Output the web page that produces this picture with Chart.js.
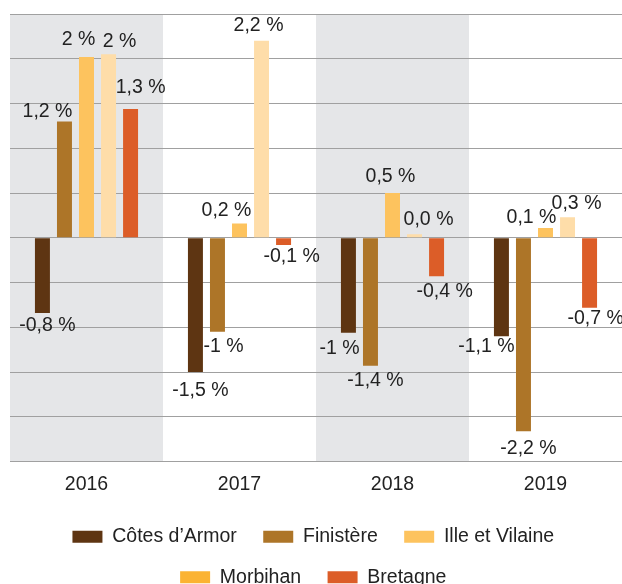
<!DOCTYPE html>
<html>
<head>
<meta charset="utf-8">
<script src="https://cdn.jsdelivr.net/npm/chart.js@4"></script>
<style>
  html, body { margin: 0; padding: 0; background: #fff; }
  #wrap { width: 622px; height: 584px; }
</style>
</head>
<body>
<div id="wrap"><canvas id="myChart"></canvas></div>
<script>
var years = ['2016', '2017', '2018', '2019'];
var seriesNames = ['Côtes d’Armor', 'Finistère', 'Ille et Vilaine', 'Morbihan', 'Bretagne'];

var cotesArmor = [-0.84, -1.5, -1.06, -1.1];
var finistere = [1.3, -1.05, -1.43, -2.16];
var illeVilaine = [2.02, 0.16, 0.5, 0.11];
var morbihan = [2.05, 2.2, 0.04, 0.23];
var bretagne = [1.44, -0.08, -0.43, -0.78];

// texts printed next to the bars
var cotesArmorText = ['-0,8 %', '-1,5 %', '-1 %', '-1,1 %'];
var finistereText = ['1,2 %', '-1 %', '-1,4 %', '-2,2 %'];
var illeVilaineText = ['2 %', '0,2 %', '0,5 %', '0,1 %'];
var morbihanText = ['2 %', '2,2 %', '0,0 %', '0,3 %'];
var bretagneText = ['1,3 %', '-0,1 %', '-0,4 %', '-0,7 %'];

var yTicks = [-2.5, -2, -1.5, -1, -0.5, 0, 0.5, 1, 1.5, 2, 2.5];

// label nudges [dx, gap beyond bar end]
var nudges = [
    [[5, 13], [5, 19], [-9, 16], [-15, 10]],
    [[-17, 10], [6, 15], [5, 15], [5, 17]],
    [[-8, 17], [-13, 13], [-2, 16], [-14, 10]],
    [[11, 13], [-3, 15], [14, 15], [9, 14]],
    [[10, 21], [8, 12], [8, 15], [6, 11]]
];

var barColors = ['#5e3512', '#ad7528', '#fdc35e', '#fedda9', '#dc5d28'];
var legendColors = ['#5e3512', '#ad7528', '#fdc35e', '#fbb333', '#dc5d28'];

Chart.defaults.font.family = '"Liberation Sans", Arial, sans-serif';
Chart.defaults.font.size = 19.5;
Chart.defaults.color = '#222';

var bands = {
    id: 'bands',
    beforeDraw: function (chart) {
        var c = chart.ctx, a = chart.chartArea;
        var w = (a.right - a.left) / years.length;
        c.save();
        c.fillStyle = '#e5e6e8';
        for (var i = 0; i < years.length; i += 2) {
            c.fillRect(a.left + i * w, a.top, w, a.bottom - a.top);
        }
        c.restore();
    }
};

var valueLabels = {
    id: 'valueLabels',
    afterDatasetsDraw: function (chart) {
        var c = chart.ctx;
        c.save();
        c.font = '19.5px "Liberation Sans", Arial, sans-serif';
        c.fillStyle = '#222';
        c.textAlign = 'center';
        c.textBaseline = 'middle';
        chart.data.datasets.forEach(function (ds, d) {
            chart.getDatasetMeta(d).data.forEach(function (bar, i) {
                var n = nudges[d][i];
                var up = ds.data[i] >= 0;
                c.fillText(ds.texts[i], bar.x + n[0], up ? bar.y - n[1] : bar.y + n[1]);
            });
        });
        c.restore();
    }
};

var allData = [cotesArmor, finistere, illeVilaine, morbihan, bretagne];
var allText = [cotesArmorText, finistereText, illeVilaineText, morbihanText, bretagneText];

var ctx = document.getElementById('myChart').getContext('2d');
var myChart = new Chart(ctx, {
    type: 'bar',
    data: {
        labels: years,
        datasets: seriesNames.map(function (name, k) {
            return {
                label: name,
                data: allData[k],
                texts: allText[k],
                backgroundColor: barColors[k],
                categoryPercentage: 0.72,
                barPercentage: 0.68
            };
        })
    },
    options: {
        responsive: true,
        maintainAspectRatio: false,
        animation: false,
        layout: { padding: { top: 14, left: 10, right: 0, bottom: -13 } },
        plugins: {
            tooltip: { enabled: false },
            legend: {
                position: 'bottom',
                labels: {
                    boxWidth: 30,
                    boxHeight: 12,
                    padding: 21,
                    color: '#222',
                    generateLabels: function (chart) {
                        var items = Chart.defaults.plugins.legend.labels.generateLabels(chart);
                        items.forEach(function (it, k) {
                            it.text = it.text + ' ';
                            it.fillStyle = legendColors[k];
                            it.strokeStyle = legendColors[k];
                            it.lineWidth = 0;
                        });
                        return items;
                    }
                }
            }
        },
        scales: {
            x: {
                grid: { display: false },
                border: { display: false },
                ticks: { padding: 3, color: '#222' },
                afterFit: function (scale) { scale.height += 7; }
            },
            y: {
                min: -2.5,
                max: 2.5,
                afterBuildTicks: function (scale) {
                    scale.ticks = yTicks.map(function (v) { return { value: v }; });
                },
                grid: { color: '#a0a0a0', lineWidth: 1, drawTicks: false },
                border: { display: false },
                ticks: { display: false }
            }
        }
    },
    plugins: [bands, valueLabels]
});
</script>
</body>
</html>
